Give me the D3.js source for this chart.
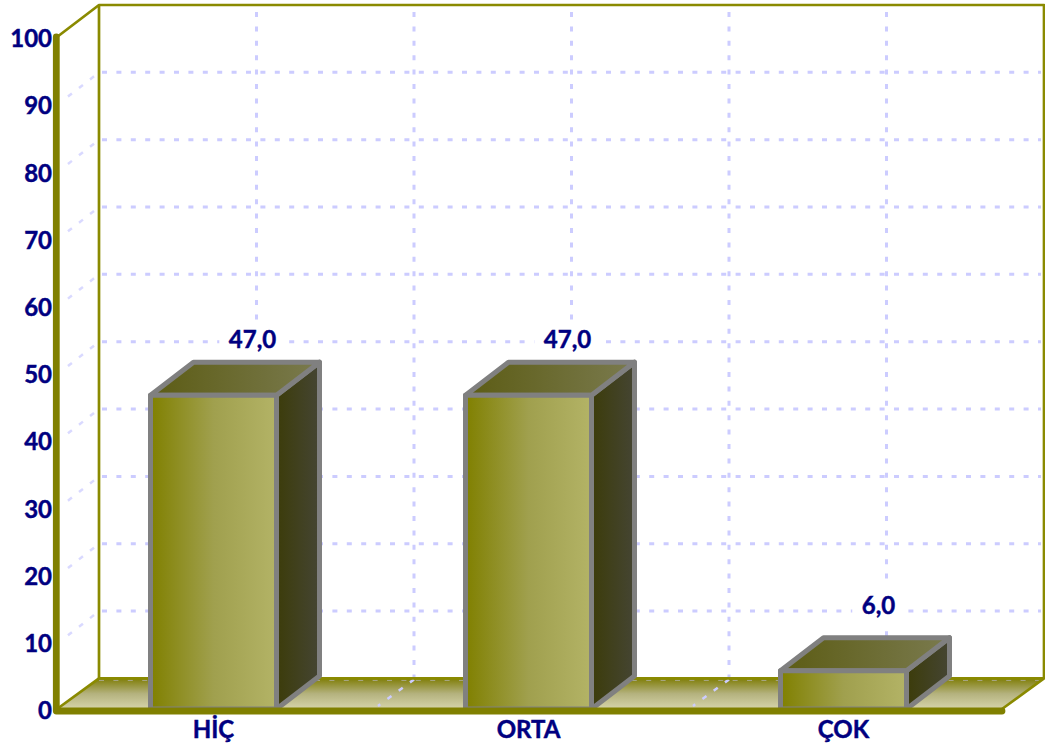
<!DOCTYPE html>
<html><head><meta charset="utf-8">
<script src="https://cdn.jsdelivr.net/npm/d3@7/dist/d3.min.js"></script>
<style>html,body{margin:0;padding:0;background:#fff}svg{display:block}
text{font-family:"Lato","Noto Sans",sans-serif;font-weight:700;fill:#000080;stroke:#000080;stroke-width:.45px}</style>
</head><body><div id="c"></div>
<script>
const categories = ["HİÇ","ORTA","ÇOK"];
const values = [47,47,6];
const valueLabels = ["47,0","47,0","6,0"];
const yTicks = [0,10,20,30,40,50,60,70,80,90,100];
const W=1045,H=754, pL=57,pR=1002,pB=709,pT=37,dx=42,bdx=43,bdy=-33;
const olive="#808000", grid="#CCCCFF";
const y=d3.scaleLinear().domain([0,100]).range([pB,pT]);
const yBack=d3.scaleLinear().domain([0,100]).range([678.4,5]);
const x=d3.scaleBand().domain(categories).range([pL-1,pR-1]).paddingInner(.6).paddingOuter(.3);
const gx=d3.scaleLinear().domain([0,6]).range([pL,pR]); // half-category grid
const svg=d3.select("#c").append("svg").attr("width",W).attr("height",H);
const defs=svg.append("defs");
function grad(id,dir,stops){
  const g=defs.append("linearGradient").attr("id",id);
  if(dir==="h")g.attr("x1",0).attr("x2",1).attr("y1",0).attr("y2",0);
  else g.attr("x1",0).attr("x2",0).attr("y1",0).attr("y2",1);
  stops.forEach((c,i)=>g.append("stop").attr("offset",i/(stops.length-1)).attr("stop-color",c));
}
grad("front","h",["#808000","#A0A04E","#B3B366"]);
grad("topf","h",["#5C5C14","#7A7A4E"]);
grad("side","h",["#3C3C0A","#454533"]);
grad("floor","v",["#7F7D08","#B4B27E","#D6D4AA"]);

const g=svg.append("g");
g.append("polygon").attr("fill","url(#floor)")
 .attr("points",[[pL,pB],[pL+dx,yBack(0)],[pR+dx,yBack(0)],[pR,pB]].join(" "));
const gridT=yTicks.filter(d=>d>0&&d<100);
g.selectAll(".h").data(gridT).join("line").attr("class","h").attr("x1",pL+dx+3).attr("x2",pR+dx-3)
 .attr("y1",d=>yBack(d)).attr("y2",d=>yBack(d)).attr("stroke",grid).attr("stroke-width",3).attr("stroke-dasharray","5 9.4");
g.selectAll(".v").data([1,2,3,4,5]).join("line").attr("class","v").attr("x1",d=>gx(d)+dx).attr("x2",d=>gx(d)+dx)
 .attr("y1",yBack(100)+7).attr("y2",yBack(0)).attr("stroke",grid).attr("stroke-width",3).attr("stroke-dasharray","5 9.4");
g.selectAll(".s").data(gridT).join("line").attr("class","s").attr("x1",pL+dx-5).attr("x2",pL+10)
 .attr("y1",d=>yBack(d)+4).attr("y2",d=>yBack(d)+25).attr("stroke",grid).attr("stroke-opacity",.75).attr("stroke-width",2.5).attr("stroke-dasharray","5 9");
g.selectAll(".f").data([2,4]).join("line").attr("class","f").attr("x1",d=>gx(d)+dx).attr("x2",d=>gx(d)+6)
 .attr("y1",yBack(0)+1).attr("y2",y(0)-3).attr("stroke",grid).attr("stroke-width",2.5).attr("stroke-dasharray","5 9");
g.append("line").attr("x1",pL+dx).attr("x2",pR+dx).attr("y1",yBack(0)+2).attr("y2",yBack(0)+2)
 .attr("stroke",grid).attr("stroke-opacity",.45).attr("stroke-width",1.2).attr("stroke-dasharray","5 9.4");
const wall=[[[pL,pT],[pL+dx,yBack(100)],[pR+dx,yBack(100)],[pR+dx,yBack(0)],[pR,pB]],
            [[pL,pB],[pL+dx,yBack(0)],[pR+dx,yBack(0)]],
            [[pL+dx,yBack(100)],[pL+dx,yBack(0)]]];
g.selectAll(".w").data(wall).join("path").attr("class","w").attr("d",d=>d3.line()(d)).attr("fill","none")
 .attr("stroke","#8A8A00").attr("stroke-width",2.7).attr("stroke-linejoin","round");
const inset=2;
const rows=categories.map((c,i)=>({c,v:values[i],l:valueLabels[i]}));
const st={stroke:"#808080","stroke-width":5,"stroke-linejoin":"round"};
function face(sel,fill,pts){const p=sel.append("polygon").attr("fill",fill).attr("points",pts);Object.entries(st).forEach(([k,v])=>p.attr(k,v));}
// value labels sit on a white plate that interrupts the grid
const lab=g.selectAll(".lab").data(rows).join("g").attr("class","lab");
lab.each(function(d){
  const s=d3.select(this),x0=x(d.c),x1=x0+x.bandwidth(),t=y(d.v)+inset;
  const base=t+bdy-(d.v<10?24:14);
  const r=s.append("rect").attr("fill","#fff");
  const tx=s.append("text").attr("x",(x0+x1)/2+(d.v<10?35:39)).attr("y",base).attr("text-anchor","middle").attr("font-size",24).text(d.l);
  const bb=tx.node().getBBox();
  r.attr("x",bb.x-9.5).attr("width",bb.width+19).attr("y",base-27).attr("height",42);
});
const b=g.selectAll(".b").data(rows).join("g").attr("class","b");
b.each(function(d){
  const s=d3.select(this),x0=x(d.c),x1=x0+x.bandwidth(),t=y(d.v)+inset,bt=y(0);
  face(s,"url(#side)",[[x1,t],[x1+bdx,t+bdy],[x1+bdx,bt+bdy],[x1,bt]].join(" "));
  face(s,"url(#topf)",[[x0,t],[x0+bdx,t+bdy],[x1+bdx,t+bdy],[x1,t]].join(" "));
  face(s,"url(#front)",[[x0,t],[x1,t],[x1,bt],[x0,bt]].join(" "));
});
g.append("path").attr("d",d3.line()([[pL-.7,pT],[pL-.7,pB+2],[pR,pB+2]])).attr("fill","none")
 .attr("stroke",olive).attr("stroke-width",6.8).attr("stroke-linejoin","round").attr("stroke-linecap","round");
const yAxis=d3.axisLeft(y).tickValues(yTicks).tickSize(0).tickPadding(0);
const ya=g.append("g").attr("transform",`translate(${pL-5},1)`).call(yAxis);
ya.select(".domain").remove();
ya.selectAll("text").attr("font-size",24).attr("dy","0.36em");
const xAxis=d3.axisBottom(x).tickSize(0).tickPadding(0);
const xa=g.append("g").attr("transform",`translate(0,${pB+12})`).call(xAxis);
xa.select(".domain").remove();
xa.selectAll("text").attr("font-size",24).attr("dy","0.71em");
</script></body></html>
